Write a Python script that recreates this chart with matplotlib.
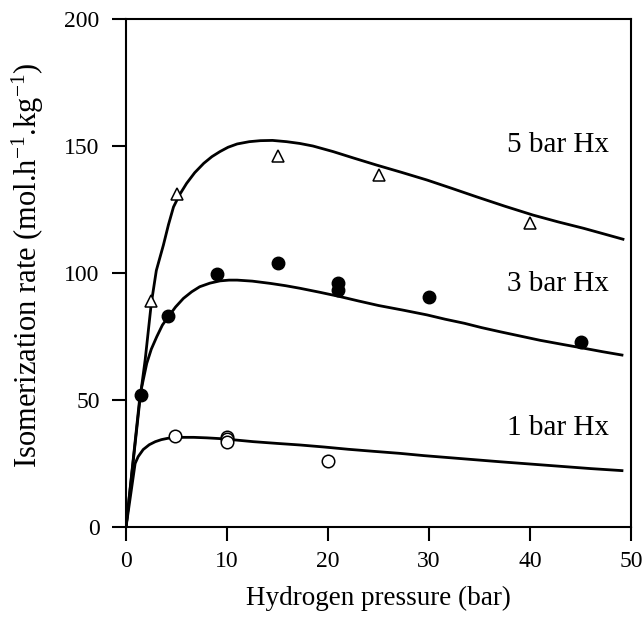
import matplotlib
matplotlib.use('Agg')
import matplotlib.pyplot as plt

plt.rcParams['font.family'] = ['Liberation Serif', 'DejaVu Serif']
plt.rcParams['mathtext.fontset'] = 'custom'
plt.rcParams['mathtext.rm'] = 'Liberation Serif'
plt.rcParams['mathtext.it'] = 'Liberation Serif:italic'

# measured points, hydrogen pressure (bar) vs isomerization rate
p_5bar = [2.5, 5, 15, 25, 40]
r_5bar = [89, 131, 146, 138.5, 119.5]
p_3bar = [1.5, 4.2, 9, 15, 21, 21, 30, 45]
r_3bar = [52, 83, 99.5, 104, 96, 93.5, 90.5, 73]
p_1bar = [4.8, 10, 10, 10, 20]
r_1bar = [36, 35.5, 34.5, 33.5, 26]

# model curves
fit_x_5bar = [0, 1.4, 1.9, 2.5, 3.0, 3.7, 4.2, 4.7, 5.3, 6.0, 6.8, 7.7, 8.5,
              9.3, 10.1, 11, 12.2, 13.3, 14.5, 15.9, 17.2, 18.5, 20.5, 22.5,
              24.8, 27.3, 29.8, 32.2, 34.7, 37.5, 40.3, 42.8, 45.3, 47.3, 49.2]
fit_y_5bar = [0, 51, 66, 88, 101, 111, 119, 126, 130.8, 135.3, 139.5, 143.2,
              145.8, 147.8, 149.5, 150.8, 151.7, 152.1, 152.2, 151.7, 151,
              150, 147.8, 145.3, 142.5, 139.6, 136.6, 133.4, 130, 126.3, 122.8,
              120.1, 117.6, 115.4, 113.3]
fit_x_3bar = [0, 1.39, 2.05, 2.5, 3.04, 3.6, 4.19, 4.9, 5.68, 6.5, 7.3, 8.3,
              9.3, 10.2, 11, 12.5, 14.3, 15.8, 17.2, 19.2, 21.2, 23, 25, 27.4,
              29.8, 31.6, 33.5, 35.2, 37, 39, 41, 43.2, 45.3, 47.2, 49.1]
fit_y_3bar = [0, 52, 64.4, 70, 74.9, 79.5, 82.8, 86.6, 90, 92.6, 94.6, 96,
              96.9, 97.2, 97.2, 96.8, 95.9, 95, 94, 92.4, 90.7, 89, 87.2, 85.4,
              83.5, 81.8, 80.2, 78.5, 76.9, 75.2, 73.5, 71.9, 70.4, 69, 67.7]
fit_x_1bar = [0, 0.9, 1.2, 1.7, 2.3, 2.9, 3.5, 4.1, 4.7, 5.7, 6.7, 8, 9.3, 11,
              12.6, 15, 17.2, 19.6, 22, 24.5, 27.1, 29.5, 32, 34.5, 37, 40,
              43, 46, 49.1]
fit_y_1bar = [0, 25, 27.7, 30.5, 32.4, 33.6, 34.4, 34.9, 35.2, 35.3, 35.3, 35.1,
              34.8, 34.2, 33.6, 32.9, 32.3, 31.5, 30.6, 29.8, 29, 28.1, 27.3,
              26.5, 25.7, 24.8, 23.9, 23, 22.2]

series_labels = ['5 bar Hx', '3 bar Hx', '1 bar Hx']
label_x = [47.8, 47.8, 47.8]
label_y = [150.5, 95.5, 39]

fig = plt.figure(figsize=(6.44, 6.31), dpi=100)
ax = fig.add_axes([0.1957, 0.1648, 0.7842, 0.8051])

ax.plot(fit_x_5bar, fit_y_5bar, color='black', lw=2, solid_joinstyle='round')
ax.plot(fit_x_3bar, fit_y_3bar, color='black', lw=2, solid_joinstyle='round')
ax.plot(fit_x_1bar, fit_y_1bar, color='black', lw=2, solid_joinstyle='round')

ax.plot(p_5bar, r_5bar, '^', ms=9, mfc='white', mec='black', mew=1.1)
ax.plot(p_3bar, r_3bar, 'o', ms=9, mfc='black', mec='black')
ax.plot(p_1bar, r_1bar, 'o', ms=9, mfc='white', mec='black', mew=1.1)

for lab, lx, ly in zip(series_labels, label_x, label_y):
    ax.text(lx, ly, lab, ha='right', va='center', fontsize=21)

ax.set_xlim(0, 50)
ax.set_ylim(0, 200)
ax.set_xticks([0, 10, 20, 30, 40, 50])
ax.set_yticks([0, 50, 100, 150, 200])
ax.tick_params(direction='out', length=10, width=1.5, labelsize=17)
ax.tick_params(axis='x', pad=7)
ax.tick_params(axis='y', pad=9)
for s in ax.spines.values():
    s.set_linewidth(1.5)

ax.set_xlabel('Hydrogen pressure (bar)', fontsize=19.5, labelpad=10)
ax.set_ylabel('Isomerization rate (mol.h$^{-1}$.kg$^{-1}$)', fontsize=22)
ax.yaxis.set_label_coords(-0.158, 0.515)

fig.savefig('out.png', dpi=100)
